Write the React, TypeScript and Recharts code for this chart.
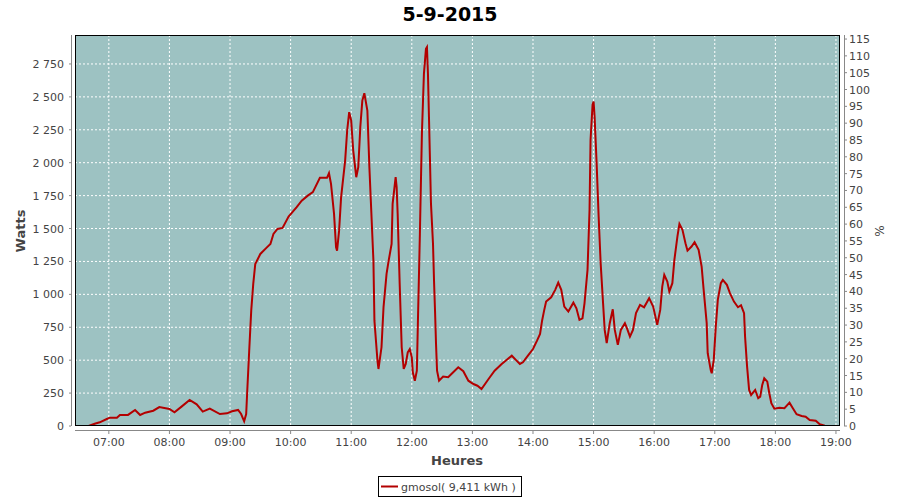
import React from 'react';
import { LineChart, Line, XAxis, YAxis, CartesianGrid } from 'recharts';

// minutes since midnight and watts
const minutes = [
  400, 406, 411, 418, 421, 428, 431, 439, 446, 451, 456, 464, 470, 480, 485, 492, 500, 507, 513, 520,
  530, 537, 542, 548, 551, 554, 556, 557, 559, 561, 563, 565, 570, 576, 580, 583, 587, 592, 598, 606,
  611, 617, 622, 629, 636, 638, 640, 643, 645, 646, 648, 650, 654, 656, 658, 660, 662, 665, 667, 669,
  671, 673, 676, 678, 682, 683, 686, 687, 690, 692, 695, 697, 700, 701, 704, 705, 706, 708, 710, 712,
  714, 716, 718, 720, 721, 723, 725, 726, 728, 730, 732, 734, 735, 736, 737, 738, 739, 741, 742, 743,
  744, 745, 747, 751, 756, 761, 766, 771, 776, 781, 785, 789, 796, 802, 809, 815, 819, 823, 827, 830,
  835, 840, 844, 847, 849, 851, 853, 858, 862, 865, 868, 871, 875, 880, 883, 886, 889, 891, 894, 896,
  897, 899, 900, 901, 903, 905, 907, 909, 911, 913, 916, 919, 921, 924, 927, 931, 933, 936, 939, 942,
  946, 950, 955, 959, 963, 966, 968, 970, 973, 975, 978, 980, 983, 985, 988, 991, 993, 997, 1000, 1004,
  1007, 1009, 1012, 1013, 1016, 1017, 1019, 1021, 1023, 1026, 1028, 1032, 1035, 1039, 1043, 1046, 1049, 1050, 1052, 1054,
  1056, 1060, 1063, 1065, 1067, 1069, 1072, 1074, 1076, 1079, 1084, 1089, 1094, 1097, 1101, 1106, 1110, 1114, 1120, 1124,
  1129,
];
const watts = [
  0, 17, 28, 53, 63, 63, 84, 84, 122, 84, 101, 116, 144, 129, 104, 147, 198, 165, 109, 132,
  91, 96, 112, 122, 91, 36, 91, 256, 572, 876, 1079, 1231, 1307, 1353, 1383, 1459, 1497, 1505, 1591, 1662,
  1712, 1750, 1776, 1885, 1885, 1920, 1839, 1611, 1358, 1332, 1484, 1738, 2016, 2244, 2384, 2320, 2092, 1890, 1966, 2270,
  2472, 2528, 2396, 1966, 1256, 800, 496, 433, 598, 902, 1155, 1252, 1383, 1687, 1890, 1814, 1611, 1079, 598, 433,
  471, 560, 585, 522, 408, 344, 420, 775, 1459, 2219, 2675, 2865, 2878, 2675, 2346, 2016, 1687, 1383, 1104, 876,
  620, 420, 344, 375, 370, 408, 446, 416, 344, 319, 306, 281, 357, 420, 471, 509, 534, 502, 471, 484,
  534, 585, 648, 700, 800, 876, 945, 978, 1034, 1089, 1034, 907, 869, 937, 894, 806, 818, 932, 1186, 1642,
  2174, 2440, 2465, 2351, 1997, 1591, 1237, 983, 730, 629, 781, 887, 730, 616, 730, 781, 743, 679, 730, 857,
  920, 902, 971, 907, 768, 882, 1059, 1148, 1097, 1021, 1085, 1262, 1439, 1535, 1490, 1389, 1332, 1363, 1396, 1338,
  1211, 1034, 781, 553, 426, 400, 502, 755, 958, 1085, 1110, 1072, 1009, 945, 902, 917, 857, 679, 451, 274,
  236, 274, 211, 223, 312, 363, 337, 249, 173, 132, 139, 135, 177, 139, 89, 76, 71, 46, 40, 13,
  2,
];

const hourTicks = [420, 480, 540, 600, 660, 720, 780, 840, 900, 960, 1020, 1080, 1140];
const wattTicks = [0, 250, 500, 750, 1000, 1250, 1500, 1750, 2000, 2250, 2500, 2750];
const pctTicks = [0, 5, 10, 15, 20, 25, 30, 35, 40, 45, 50, 55, 60, 65, 70, 75, 80, 85, 90, 95, 100, 105, 110, 115];

const data = minutes.map((m, i) => ({ m, w: watts[i] }));

const FONT = '"DejaVu Sans", sans-serif';
const TICK_COLOR = '#444';

const hhmm = (m: number) =>
  `${String(Math.floor(m / 60)).padStart(2, '0')}:${String(m % 60).padStart(2, '0')}`;

// thousands with a space, like the french locale of the source
const fmtWatts = (v: number) => String(v).replace(/\B(?=(\d{3})+(?!\d))/g, ' ');

const LeftTick = (p: any) => (
  <g>
    <line x1={p.x - 6} x2={p.x - 4} y1={p.y} y2={p.y} stroke="#888" />
    <text x={p.x - 11} y={p.y + 4} textAnchor="end" fontSize={11} fontFamily={FONT} fill={TICK_COLOR}>
      {fmtWatts(p.payload.value)}
    </text>
  </g>
);

const RightTick = (p: any) => (
  <g>
    <line x1={p.x + 4} x2={p.x + 7} y1={p.y} y2={p.y} stroke="#888" />
    <text x={p.x + 9} y={p.y + 4} textAnchor="start" fontSize={11} fontFamily={FONT} fill={TICK_COLOR}>
      {p.payload.value}
    </text>
  </g>
);

const BottomTick = (p: any) => (
  <g>
    <line x1={p.x} x2={p.x} y1={p.y + 4} y2={p.y + 8} stroke="#888" />
    <text x={p.x} y={p.y + 20} textAnchor="middle" fontSize={11} fontFamily={FONT} fill={TICK_COLOR}>
      {hhmm(p.payload.value)}
    </text>
  </g>
);

export default function App() {
  return (
    <div style={{ position: 'absolute', left: 0, top: 0, width: 900, height: 500, background: '#fff' }}>
      <LineChart width={900} height={500} data={data} margin={{ top: 35, right: 0, bottom: 0, left: 0 }}>
        <CartesianGrid
          yAxisId="w"
          fill="#9dc2c2"
          fillOpacity={1}
          stroke="#ffffff"
          strokeDasharray="2 2"
        />
        <XAxis
          dataKey="m"
          type="number"
          domain={[386.5, 1144]}
          ticks={hourTicks}
          interval={0}
          height={74}
          axisLine={false}
          tickLine={false}
          tickSize={0}
          tickMargin={0}
          tick={<BottomTick />}
          allowDataOverflow
        />
        <YAxis
          yAxisId="w"
          orientation="left"
          type="number"
          domain={[0, 2970]}
          ticks={wattTicks}
          interval={0}
          width={75}
          axisLine={false}
          tickLine={false}
          tickSize={0}
          tickMargin={0}
          tick={<LeftTick />}
          allowDataOverflow
        />
        <YAxis
          yAxisId="pct"
          orientation="right"
          type="number"
          domain={[0, 116.2]}
          ticks={pctTicks}
          interval={0}
          width={60}
          axisLine={false}
          tickLine={false}
          tickSize={0}
          tickMargin={0}
          tick={<RightTick />}
          allowDataOverflow
        />
        <Line
          yAxisId="w"
          type="linear"
          dataKey="w"
          stroke="#b30000"
          strokeWidth={2}
          dot={false}
          isAnimationActive={false}
        />
      </LineChart>
      <svg
        width={900}
        height={500}
        style={{ position: 'absolute', left: 0, top: 0, pointerEvents: 'none' }}
      >
        {/* plot border and offset axis lines */}
        <rect x={75.5} y={35.5} width={764} height={390} fill="none" stroke="#000" />
        <line x1={71.5} x2={71.5} y1={35} y2={426} stroke="#888" />
        <line x1={844.5} x2={844.5} y1={35} y2={426} stroke="#888" />
        <line x1={75} x2={840} y1={430.5} y2={430.5} stroke="#888" />
        <text x={450} y={21} textAnchor="middle" fontSize={19} fontWeight="bold" fontFamily={FONT} fill="#000">
          5-9-2015
        </text>
        <text
          x={25}
          y={231}
          transform="rotate(-90 25 231)"
          textAnchor="middle"
          fontSize={13}
          fontWeight="bold"
          fontFamily={FONT}
          fill={TICK_COLOR}
        >
          Watts
        </text>
        <text x={457} y={465} textAnchor="middle" fontSize={13} fontWeight="bold" fontFamily={FONT} fill={TICK_COLOR}>
          Heures
        </text>
        <text
          x={884}
          y={231}
          transform="rotate(-90 884 231)"
          textAnchor="middle"
          fontSize={12}
          fontFamily={FONT}
          fill={TICK_COLOR}
        >
          %
        </text>
        <rect x={378.5} y={476.5} width={143} height={20} fill="#fff" stroke="#000" />
        <line x1={381} x2={398} y1={486.5} y2={486.5} stroke="#b30000" strokeWidth={2} />
        <text x={401} y={490.5} fontSize={11} fontFamily={FONT} fill={TICK_COLOR}>
          gmosol( 9,411 kWh )
        </text>
      </svg>
    </div>
  );
}
